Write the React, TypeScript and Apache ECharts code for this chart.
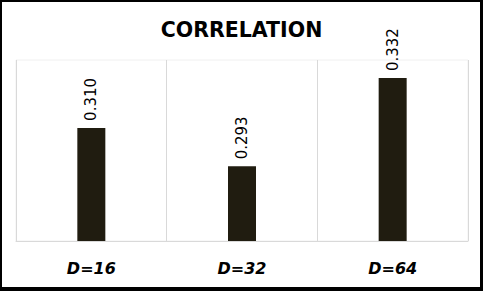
import React, { useEffect, useRef } from "react";
import * as echarts from "echarts";

const categories = ["D=16", "D=32", "D=64"];
const values = [0.31, 0.293, 0.332];
const titleText = "CORRELATION";

export default function App() {
  const ref = useRef<HTMLDivElement>(null);
  useEffect(() => {
    if (!ref.current) return;
    const chart = echarts.init(ref.current, null, { renderer: "svg" });
    chart.setOption({
      animation: false,
      backgroundColor: "#ffffff",
      title: {
        text: titleText,
        left: "center",
        top: 14,
        textStyle: {
          fontFamily: "DejaVu Sans",
          fontWeight: "bold",
          fontSize: 20.5,
          color: "#000000",
        },
      },
      grid: {
        left: 16,
        right: 15,
        top: 60,
        bottom: 50,
        show: true,
        borderColor: "#f0f0f0",
        borderWidth: 1,
      },
      xAxis: {
        type: "category",
        data: categories,
        axisLine: { show: true, lineStyle: { color: "#d9d9d9", width: 1 } },
        axisTick: { show: false },
        splitLine: { show: true, lineStyle: { color: "#d9d9d9", width: 1 } },
        axisLabel: {
          margin: 19,
          fontFamily: "DejaVu Sans",
          fontWeight: "bold",
          fontStyle: "italic",
          fontSize: 16,
          color: "#000000",
        },
      },
      yAxis: {
        type: "value",
        min: 0.26,
        max: 0.34,
        show: false,
        splitLine: { show: false },
      },
      series: [
        {
          type: "bar",
          data: values,
          barWidth: 28,
          itemStyle: { color: "#201c10" },
          label: {
            show: true,
            position: "top",
            rotate: 90,
            align: "left",
            verticalAlign: "middle",
            distance: 7,
            fontFamily: "DejaVu Sans",
            fontSize: 15,
            color: "#000000",
            formatter: (p: any) => p.value.toFixed(3),
          },
        },
      ],
    });
    return () => chart.dispose();
  }, []);
  return (
    <div style={{ position: "fixed", left: 0, top: 0, width: 483, height: 291 }}>
      <div ref={ref} style={{ position: "absolute", left: 0, top: 0, width: 483, height: 291 }} />
      <div
        style={{
          position: "absolute",
          left: 0,
          top: 0,
          width: 483,
          height: 291,
          boxSizing: "border-box",
          borderTop: "2px solid #000",
          borderLeft: "2px solid #000",
          borderRight: "3px solid #000",
          borderBottom: "4px solid #000",
          pointerEvents: "none",
        }}
      />
    </div>
  );
}
